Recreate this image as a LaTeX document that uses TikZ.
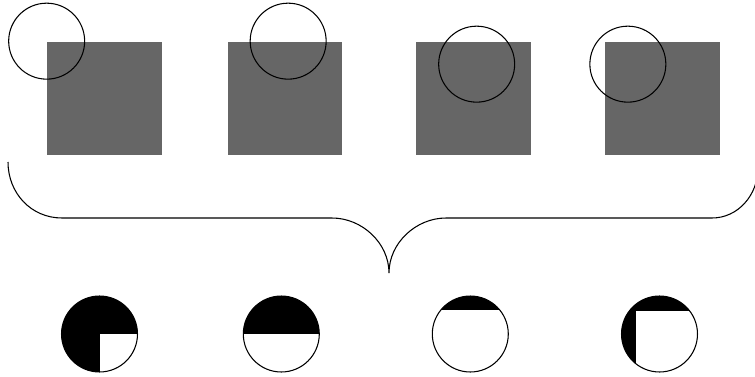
\documentclass[tikz,border=0pt]{standalone}
\usepackage{tikz}
\usetikzlibrary{calc}

\begin{document}
\begin{tikzpicture}[
    x=0.02cm, y=-0.02cm,
    tile/.style={rectangle, fill=black!60, inner sep=0pt, minimum width=2.3cm, minimum height=2.28cm},
    ring/.style={circle, draw, line width=0.6pt, inner sep=0pt, minimum size=1.52cm},
    disc/.style={circle, fill=black, inner sep=0pt, minimum size=1.52cm},
    edge/.style={line width=0.6pt},
]
    \useasboundingbox (0,0) rectangle (755,376);
    \clip (0,0) rectangle (755,376);

    % Grey squares
    \node[tile] (t1) at (104.5,98.5) {};
    \node[tile] (t2) at (285,98.5) {};
    \node[tile] (t3) at (473.5,98.5) {};
    \node[tile] (t4) at (662.7,98.5) {};

    % Circles over the squares
    \node[ring] (c1) at (t1.north west) {};
    \node[ring] (c2) at ($(t2.north west)+(61,0)$) {};
    \node[ring] (c3) at ($(t3.north west)+(61,23)$) {};
    \node[ring] (c4) at ($(t4.north west)+(23,23)$) {};

    % Brace
    \coordinate (bl) at (8,162);
    \coordinate (tip) at (389,273);
    \coordinate (br) at (758,168);
    \draw[edge] (bl) .. controls (8,193) and (31,218) .. (62,218) -- (332,218)
        .. controls (362,218) and (389,243) .. (tip)
        .. controls (389,243) and (416,218) .. (446,218) -- (712,218)
        .. controls (738,218) and (758,195) .. (br);

    % Resulting discs
    \node[disc] (d1) at (99.5,334) {};
    \node[disc] (d2) at (281.3,334) {};
    \node[disc] (d3) at (470.3,334) {};
    \node[disc] (d4) at (659.5,334) {};
    \begin{scope}
        \clip (d1.center) circle[radius=0.76cm];
        \fill[white] (d1.center) rectangle ++(40,40);
    \end{scope}
    \begin{scope}
        \clip (d2.center) circle[radius=0.76cm];
        \fill[white] ($(d2.center)+(-40,0)$) rectangle ++(80,40);
    \end{scope}
    \begin{scope}
        \clip (d3.center) circle[radius=0.76cm];
        \fill[white] ($(d3.center)+(-40,-24)$) rectangle ++(80,64);
    \end{scope}
    \begin{scope}
        \clip (d4.center) circle[radius=0.76cm];
        \fill[white] ($(d4.center)+(-24,-23)$) rectangle ++(64,63);
    \end{scope}
    \foreach \d in {d1,d2,d3,d4}
        \draw[edge] (\d.center) circle[radius=0.76cm];
\end{tikzpicture}
\end{document}
